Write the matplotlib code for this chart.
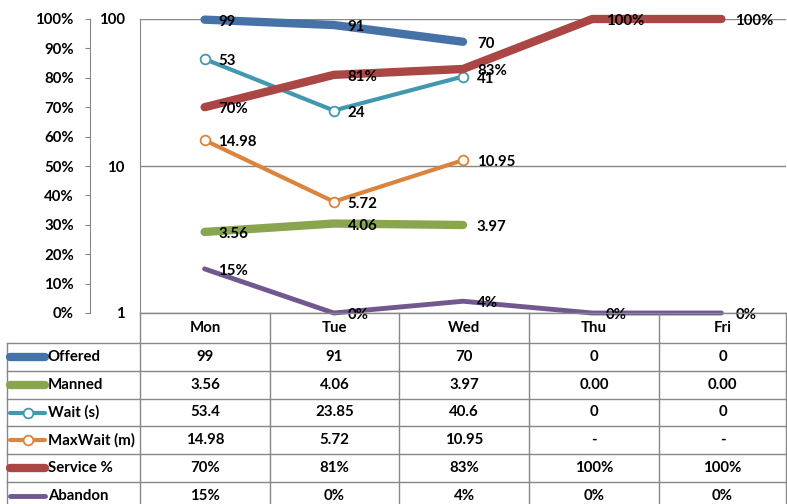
import numpy as np
import matplotlib
matplotlib.use('Agg')
import matplotlib.pyplot as plt
from matplotlib.ticker import FixedLocator, FuncFormatter, NullLocator

plt.rcParams['font.family'] = ['Lato', 'DejaVu Sans']
plt.rcParams['font.weight'] = 'bold'

# ---------------- data ----------------
days = ['Mon', 'Tue', 'Wed', 'Thu', 'Fri']
series_names = ['Offered', 'Manned', 'Wait (s)', 'MaxWait (m)', 'Service %', 'Abandon']
offered = [99, 91, 70, 0, 0]
manned = [3.56, 4.06, 3.97, 0.00, 0.00]
wait_s = [53.4, 23.85, 40.6, 0, 0]
maxwait_m = [14.98, 5.72, 10.95, None, None]
service_pct = [0.70, 0.81, 0.83, 1.00, 1.00]
abandon_pct = [0.15, 0.00, 0.04, 0.00, 0.00]
pct_ticks = [0.0, 0.1, 0.2, 0.3, 0.4, 0.5, 0.6, 0.7, 0.8, 0.9, 1.0]
log_ticks = [1, 10, 100]

colors = {
    'Offered': '#4572A7', 'Manned': '#89A54E', 'Wait (s)': '#4198AF',
    'MaxWait (m)': '#DB843D', 'Service %': '#AA4643', 'Abandon': '#71588F',
}
GRAY = '#878787'
FS = 10.8

W, H = 787, 504
fig = plt.figure(figsize=(W / 100, H / 100), dpi=100)


def rect(l, t, r, b):
    return [l / W, 1 - b / H, (r - l) / W, (b - t) / H]


L, T, R, B = 140, 19, 786, 313
ax = fig.add_axes(rect(L, T, R, B))
ax.set_yscale('log')
ax.set_ylim(1, 100)
ax.set_xlim(-0.5, len(days) - 0.5)
ax.yaxis.set_major_locator(FixedLocator(log_ticks))
ax.yaxis.set_minor_locator(NullLocator())
ax.yaxis.set_major_formatter(FuncFormatter(lambda v, p: f'{v:g}'))
ax.tick_params(axis='y', length=0, pad=11, labelsize=FS)
ax.set_xticks([])
for s in ['top', 'right', 'bottom']:
    ax.spines[s].set_visible(False)
ax.spines['left'].set_color(GRAY)
ax.grid(axis='y', which='major', color=GRAY, lw=1)

ax2 = fig.add_axes(rect(L, T, R, B), facecolor='none')
ax2.set_ylim(0, 1)
ax2.set_xlim(-0.5, len(days) - 0.5)
ax2.set_yticks(pct_ticks)
ax2.yaxis.set_major_formatter(FuncFormatter(lambda v, p: f'{v:.0%}'))
ax2.tick_params(axis='y', length=3.6, direction='out', pad=8, labelsize=FS, color=GRAY)
ax2.set_xticks([])
for s in ['top', 'right', 'bottom']:
    ax2.spines[s].set_visible(False)
ax2.spines['left'].set_position(('outward', 36))
ax2.spines['left'].set_color(GRAY)

x = np.arange(len(days))


def pos(vals):
    return np.array([np.nan if (v is None or v <= 0) else v for v in vals], dtype=float)


def label(a, vals, fmt):
    for i, v in enumerate(vals):
        if v is None or np.isnan(v):
            continue
        a.annotate(fmt(v), (i, v), xytext=(10, -1.5), textcoords='offset points',
                   ha='left', va='center', fontsize=FS, annotation_clip=False)


log_series = [
    ('Offered', offered, 6, False, lambda v: f'{v:.0f}'),
    ('Manned', manned, 6, False, lambda v: f'{v:.2f}'),
    ('Wait (s)', wait_s, 3, True, lambda v: f'{v:.0f}'),
    ('MaxWait (m)', maxwait_m, 3, True, lambda v: f'{v:.2f}'),
]
for name, vals, lw, mk, fmt in log_series:
    y = pos(vals)
    ax.plot(x, y, color=colors[name], lw=lw, solid_capstyle='round',
            marker='o' if mk else None, ms=7, mfc='white', mec=colors[name], mew=1.3,
            clip_on=False, zorder=3)
    label(ax, y, fmt)

pct_series = [
    ('Service %', service_pct, 6),
    ('Abandon', abandon_pct, 3.5),
]
for name, vals, lw in pct_series:
    y = np.array(vals, dtype=float)
    ax2.plot(x, y, color=colors[name], lw=lw, solid_capstyle='round', clip_on=False, zorder=3)
    label(ax2, y, lambda v: f'{v:.0%}')

# ---------------- data table ----------------
tab = fig.add_axes([0, 0, 1, 1], facecolor='none')
tab.set_xlim(0, W)
tab.set_ylim(H, 0)
tab.axis('off')

col_edges = [140, 270, 399, 529, 659, 786]
row_edges = [313, 343, 371, 399, 426, 454, 482, 510]
tab_left = 7

# header
tab.plot([col_edges[0], col_edges[-1]], [row_edges[0]] * 2, color=GRAY, lw=1)
for ce in col_edges:
    tab.plot([ce, ce], [row_edges[0], H], color=GRAY, lw=1)
tab.plot([tab_left, tab_left], [row_edges[1], H], color=GRAY, lw=1)
for re in row_edges[1:-1]:
    tab.plot([tab_left, col_edges[-1]], [re, re], color=GRAY, lw=1)

for j, d in enumerate(days):
    cx = (col_edges[j] + col_edges[j + 1]) / 2
    tab.text(cx, (row_edges[0] + row_edges[1]) / 2, d, ha='center', va='center', fontsize=FS)

cell_fmt = {
    'Offered': (offered, lambda v: f'{v:.0f}'),
    'Manned': (manned, lambda v: f'{v:.2f}'),
    'Wait (s)': (wait_s, lambda v: f'{v:g}'),
    'MaxWait (m)': (maxwait_m, lambda v: '-' if v is None else f'{v:.2f}'),
    'Service %': (service_pct, lambda v: f'{v:.0%}'),
    'Abandon': (abandon_pct, lambda v: f'{v:.0%}'),
}
key_lw = {'Offered': 6, 'Manned': 6, 'Wait (s)': 3, 'MaxWait (m)': 3, 'Service %': 6, 'Abandon': 3.5}
key_mk = {'Wait (s)', 'MaxWait (m)'}
for r, name in enumerate(series_names):
    cy = (row_edges[r + 1] + row_edges[r + 2]) / 2
    tab.plot([10, 45], [cy, cy], color=colors[name], lw=key_lw[name], solid_capstyle='round')
    if name in key_mk:
        tab.plot([27.5], [cy], marker='o', ms=7, mfc='white', mec=colors[name], mew=1.3)
    tab.text(48, cy, name, ha='left', va='center', fontsize=FS)
    vals, fmt = cell_fmt[name]
    for j, v in enumerate(vals):
        cx = (col_edges[j] + col_edges[j + 1]) / 2
        tab.text(cx, cy, fmt(v), ha='center', va='center', fontsize=FS)

fig.savefig('out.png', dpi=100)
